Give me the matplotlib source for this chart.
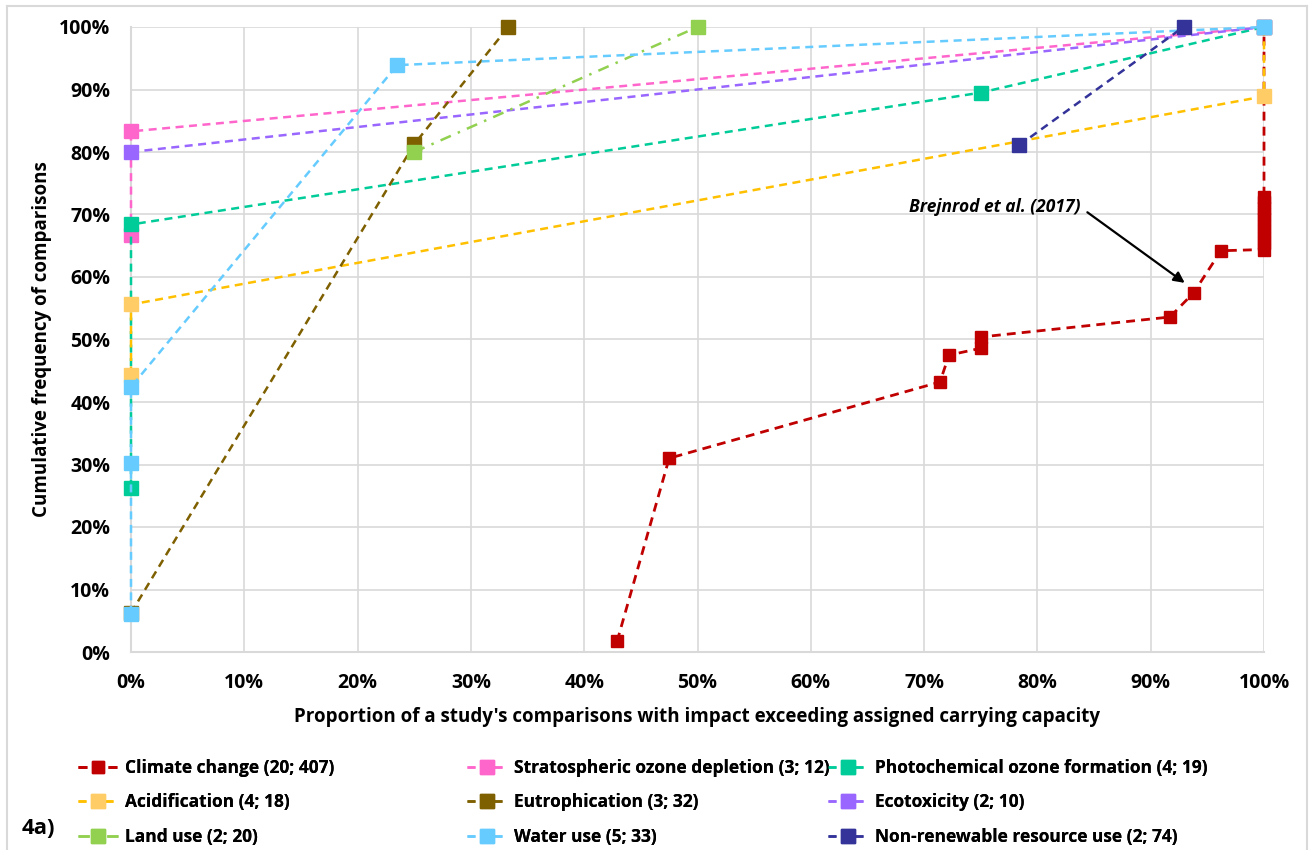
import matplotlib
matplotlib.use("Agg")
import matplotlib.pyplot as plt
from matplotlib.lines import Line2D
from matplotlib.ticker import PercentFormatter, MultipleLocator

plt.rcParams['font.family'] = ['Open Sans', 'DejaVu Sans']
plt.rcParams['font.weight'] = 'bold'

# ---- data (proportion exceeding, cumulative frequency) ----
climate_x = [42.9, 47.5, 71.4, 72.2, 75.0, 75.0, 91.7, 93.8, 96.2,
             100, 100, 100, 100, 100, 100, 100, 100, 100, 100, 100]
climate_y = [1.7, 31.0, 43.2, 47.5, 48.6, 50.4, 53.6, 57.5, 64.2,
             64.4, 65.4, 66.3, 67.3, 68.2, 69.2, 70.1, 71.1, 72.0, 72.8, 100]

strat_x = [0, 0, 100]
strat_y = [66.7, 83.3, 100]

photo_x = [0, 0, 75, 100]
photo_y = [26.3, 68.4, 89.5, 100]

acid_x = [0, 0, 100, 100]
acid_y = [44.4, 55.6, 88.9, 100]

eutro_x = [0, 25, 33.3]
eutro_y = [6.25, 81.25, 100]

ecotox_x = [0, 100]
ecotox_y = [80, 100]

land_x = [25, 50]
land_y = [80, 100]

water_x = [0, 0, 0, 23.5, 100]
water_y = [6.1, 30.3, 42.4, 93.9, 100]

nonren_x = [78.4, 92.9]
nonren_y = [81.1, 100]

labels = ["Climate change (20; 407)", "Stratospheric ozone depletion (3; 12)",
          "Photochemical ozone formation (4; 19)", "Acidification (4; 18)",
          "Eutrophication (3; 32)", "Ecotoxicity (2; 10)", "Land use (2; 20)",
          "Water use (5; 33)", "Non-renewable resource use (2; 74)"]

series = [(climate_x, climate_y), (strat_x, strat_y), (photo_x, photo_y),
          (acid_x, acid_y), (eutro_x, eutro_y), (ecotox_x, ecotox_y),
          (land_x, land_y), (water_x, water_y), (nonren_x, nonren_y)]

line_colors = ["#C00000", "#FF66CC", "#00CC99", "#FFC000", "#7F6000",
               "#9966FF", "#92D050", "#66CCFF", "#333399"]
marker_colors = ["#C00000", "#FF66CC", "#00CC99", "#FFCC66", "#7F6000",
                 "#9966FF", "#92D050", "#66CCFF", "#333399"]
dash_styles = [(3.2, 2.2)] * 6 + [(4.5, 3, 1, 3)] + [(3.2, 2.2)] * 2

fig = plt.figure(figsize=(13.11, 8.5), dpi=100)
ax = fig.add_axes([131 / 1311, 1 - 652 / 850, (1264 - 131) / 1311, (652 - 27) / 850])

handles = []
for i, ((xs, ys), lab) in enumerate(zip(series, labels)):
    lw = 2.0 if i == 0 else 1.8
    ms = 9 if i == 0 else 9.5
    ln, = ax.plot([v / 100 for v in xs], [v / 100 for v in ys],
                  color=line_colors[i], lw=lw, dashes=dash_styles[i],
                  marker='s', ms=ms, mfc=marker_colors[i], mec=marker_colors[i],
                  clip_on=False, zorder=3 + i * 0.1, label=lab)
    handles.append(ln)

ax.set_xlim(0, 1)
ax.set_ylim(0, 1)
ax.xaxis.set_major_locator(MultipleLocator(0.1))
ax.yaxis.set_major_locator(MultipleLocator(0.1))
ax.xaxis.set_major_formatter(PercentFormatter(1.0, decimals=0))
ax.yaxis.set_major_formatter(PercentFormatter(1.0, decimals=0))
ax.grid(True, color="#D9D9D9", lw=1.2, zorder=0)
ax.set_axisbelow(True)
for s in ['top', 'right']:
    ax.spines[s].set_visible(False)
for s in ['left', 'bottom']:
    ax.spines[s].set_color("#D9D9D9")
    ax.spines[s].set_linewidth(1.5)
ax.tick_params(length=0, labelsize=14)
for t in ax.get_xticklabels() + ax.get_yticklabels():
    t.set_fontweight('bold')
ax.tick_params(axis='x', pad=15)
ax.tick_params(axis='y', pad=15)

ax.set_xlabel("Proportion of a study's comparisons with impact exceeding assigned carrying capacity",
              fontsize=13.5, fontweight='bold', labelpad=10)
ax.set_ylabel("Cumulative frequency of comparisons", fontsize=13.5, fontweight='bold', labelpad=5)

ax.annotate("Brejnrod et al. (2017)", xy=(0.932, 0.588), xytext=(0.762, 0.712),
            fontsize=12.5, fontweight='bold', fontstyle='italic', ha='center', va='center',
            arrowprops=dict(arrowstyle='-|>', color='black', lw=1.6,
                            shrinkA=4, shrinkB=2, mutation_scale=16,
                            relpos=(1.0, 0.5)),
            zorder=10)

# legends: three columns, each row-wise ordered
col_x = [78 / 1311, 467 / 1311, 828 / 1311]
for c in range(3):
    hs = [handles[c], handles[c + 3], handles[c + 6]]
    leg = fig.legend(handles=hs, labels=[h.get_label() for h in hs],
                     loc='upper left', bbox_to_anchor=(col_x[c], 1 - 759 / 850),
                     frameon=False, handlelength=2.3,
                     handletextpad=0.4, labelspacing=0.95, borderpad=0,
                     borderaxespad=0, prop={'weight': 'bold', 'size': 12.5})
    fig.add_artist(leg)

fig.text(22 / 1311, 1 - 828 / 850, "4a)", fontsize=16, fontweight='bold',
         ha='left', va='center')

# outer frame
frame_kw = dict(color="#D9D9D9", lw=1.5, transform=fig.transFigure)
fig.add_artist(Line2D([7 / 1311, 7 / 1311], [0, 1 - 6 / 850], **frame_kw))
fig.add_artist(Line2D([7 / 1311, 1307 / 1311], [1 - 6 / 850, 1 - 6 / 850], **frame_kw))
fig.add_artist(Line2D([1307 / 1311, 1307 / 1311], [0, 1 - 6 / 850], **frame_kw))

fig.savefig("out.png", dpi=100, facecolor='white')
